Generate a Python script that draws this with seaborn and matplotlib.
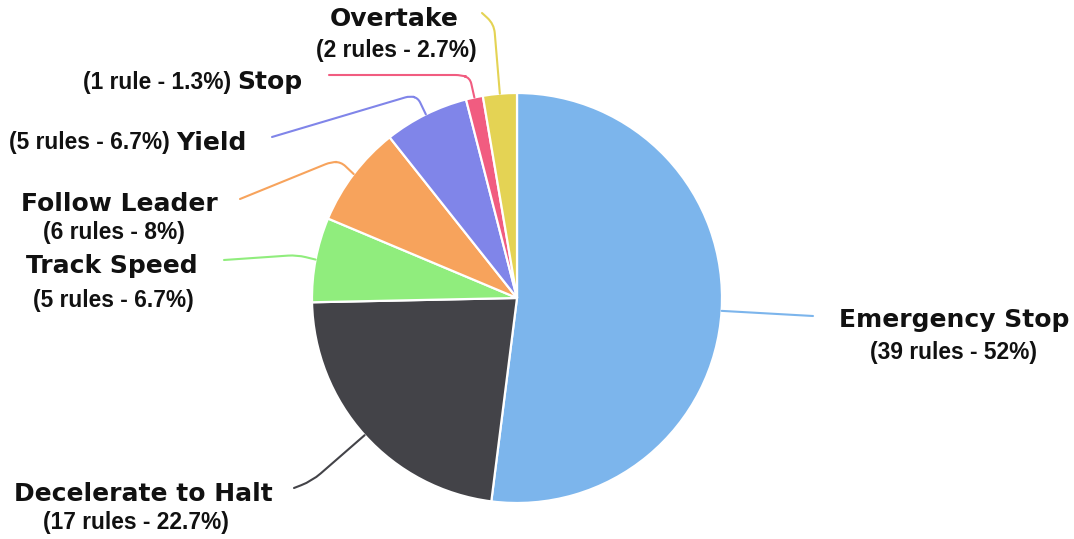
import numpy as np
import matplotlib
matplotlib.use("Agg")
import matplotlib.pyplot as plt
from matplotlib.path import Path
from matplotlib.patches import PathPatch
import seaborn as sns

# Rule categories and how many rules fall into each
categories = ["Emergency Stop", "Decelerate to Halt", "Track Speed",
              "Follow Leader", "Yield", "Stop", "Overtake"]
rule_counts = [39, 17, 5, 6, 5, 1, 2]
shares = [52, 22.7, 6.7, 8, 6.7, 1.3, 2.7]
slice_colors = ["#7cb5ec", "#434348", "#90ed7d", "#f7a35c",
                "#8085e9", "#f15c80", "#e4d354"]

W, H = 1074, 539
sns.set_theme(style="white")
palette = sns.color_palette(slice_colors)

fig = plt.figure(figsize=(W / 100, H / 100), dpi=100)
ax = fig.add_axes([0, 0, 1, 1])

cx, cy, R = 517, 298, 205  # pie centre / radius in pixel units (y from top)
wedges, _ = ax.pie(rule_counts, colors=palette, startangle=90,
                   counterclock=False, center=(cx, H - cy), radius=R,
                   wedgeprops=dict(edgecolor="white", linewidth=1.6))
ax.set_xlim(0, W)
ax.set_ylim(0, H)
ax.set_aspect("auto")
ax.axis("off")


def rounded_path(pts, r=9):
    """Polyline through pts (pixel coords, y down) with softened corners."""
    pts = [np.array(p, dtype=float) for p in pts]
    verts, codes = [pts[0]], [Path.MOVETO]
    for i in range(1, len(pts) - 1):
        p0, p1, p2 = pts[i - 1], pts[i], pts[i + 1]
        d1, d2 = p0 - p1, p2 - p1
        l1, l2 = np.hypot(*d1), np.hypot(*d2)
        rr = min(r, l1 * 0.6, l2 * 0.6)
        a = p1 + d1 / l1 * rr
        b = p1 + d2 / l2 * rr
        verts += [a, p1, b]
        codes += [Path.LINETO, Path.CURVE3, Path.CURVE3]
    verts.append(pts[-1])
    codes.append(Path.LINETO)
    verts = [(v[0], H - v[1]) for v in verts]
    return Path(verts, codes)


# connector route after leaving the slice edge (pixel coords, y down)
routes = {
    "Emergency Stop": [(813, 316)],
    "Decelerate to Halt": [(312, 481), (294, 488)],
    "Track Speed": [(297, 255), (224, 260)],
    "Follow Leader": [(341, 162), (331, 162), (240, 199)],
    "Yield": [(418, 98), (410, 96), (272, 137)],
    "Stop": [(470, 78), (461, 75), (329, 75)],
    "Overtake": [(494, 24), (482, 13)],
}

# label placement: (x, y, align) for name and for detail text
name_pos = {
    "Emergency Stop": (954, 320, "center"),
    "Decelerate to Halt": (143, 494, "center"),
    "Track Speed": (112, 266, "center"),
    "Follow Leader": (119, 204, "center"),
    "Yield": (176, 143, "left"),
    "Stop": (237, 82, "left"),
    "Overtake": (394, 19, "center"),
}
detail_pos = {
    "Emergency Stop": (954, 353, "center"),
    "Decelerate to Halt": (136, 523, "center"),
    "Track Speed": (113, 300, "center"),
    "Follow Leader": (114, 232, "center"),
    "Yield": (170, 143, "right"),
    "Stop": (231, 82, "right"),
    "Overtake": (396, 50, "center"),
}

name_font = dict(family="DejaVu Sans", weight="bold", size=18, color="#111111")
detail_font = dict(family="Liberation Sans", weight="bold", size=16.4, color="#111111")

for w, cat, n, s, col in zip(wedges, categories, rule_counts, shares, palette):
    mid = np.deg2rad((w.theta1 + w.theta2) / 2)
    start = (cx + R * np.cos(mid), cy - R * np.sin(mid))
    r = 16 if cat == "Decelerate to Halt" else 9
    path = rounded_path([start] + routes[cat], r=r)
    ax.add_patch(PathPatch(path, facecolor="none", edgecolor=col,
                           linewidth=1.5, capstyle="round", zorder=1))

    word = "rule" if n == 1 else "rules"
    detail = f"({n} {word} - {s:g}%)"
    x, y, ha = name_pos[cat]
    ax.text(x, H - y, cat, ha=ha, va="center", **name_font)
    x, y, ha = detail_pos[cat]
    ax.text(x, H - y, detail, ha=ha, va="center", **detail_font)

fig.savefig("out.png", dpi=100, facecolor="white")
